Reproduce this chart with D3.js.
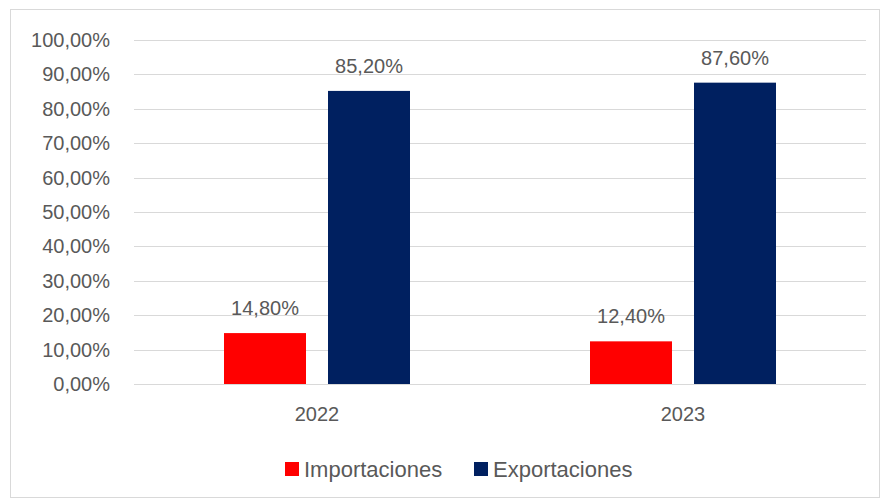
<!DOCTYPE html>
<html><head><meta charset="utf-8">
<script src="https://cdn.jsdelivr.net/npm/d3@7"></script>
<style>body{margin:0;background:#fff}svg{display:block}text{font-family:"Liberation Sans",Arial,sans-serif;fill:#595959}</style>
</head><body>
<script>
const categories = ["2022", "2023"];
const seriesNames = ["Importaciones", "Exportaciones"];
const importaciones = [14.8, 12.4];
const exportaciones = [85.2, 87.6];
const yTicks = [0,10,20,30,40,50,60,70,80,90,100];
const colors = ["#ff0000", "#002060"];

const W = 882, H = 499;
const FS = 20;
const svg = d3.select("body").append("svg").attr("width", W).attr("height", H);
svg.append("rect").attr("x",10.5).attr("y",9.5).attr("width",869).attr("height",488)
  .attr("fill","#fff").attr("stroke","#d9d9d9").attr("stroke-width",1);

const x0 = d3.scaleBand().domain(categories).range([134, 866]).paddingInner(0).paddingOuter(0);
const y = d3.scaleLinear().domain([0, 100]).range([384, 40]);
const x1 = d3.scaleBand().domain(seriesNames).range([x0.bandwidth()/2 - 93, x0.bandwidth()/2 + 93]).paddingInner(22/104);

const fmt = v => d3.format(".2f")(v).replace(".", ",") + "%";

svg.append("g").selectAll("line").data(yTicks).join("line")
  .attr("x1", 134).attr("x2", 866)
  .attr("y1", d => Math.round(y(d)) + 0.5).attr("y2", d => Math.round(y(d)) + 0.5)
  .attr("stroke", "#d9d9d9").attr("stroke-width", 1);

const yAxis = d3.axisLeft(y).tickValues(yTicks).tickFormat(fmt).tickSize(0).tickPadding(0);
const gy = svg.append("g").attr("transform", "translate(110,0)").call(yAxis);
gy.select(".domain").remove();
gy.selectAll("text").attr("font-size", FS).style("font-family", '"Liberation Sans",Arial,sans-serif').attr("fill", "#595959");

const xAxis = d3.axisBottom(x0).tickSize(0).tickPadding(0);
const gx = svg.append("g").attr("transform", "translate(0,407)").call(xAxis);
gx.select(".domain").remove();
gx.selectAll("text").attr("font-size", FS).style("font-family", '"Liberation Sans",Arial,sans-serif').attr("fill", "#595959");

const data = categories.map((c, i) => ({cat: c, vals: [
  {name: seriesNames[0], v: importaciones[i], color: colors[0]},
  {name: seriesNames[1], v: exportaciones[i], color: colors[1]}]}));

const groups = svg.append("g").selectAll("g").data(data).join("g")
  .attr("transform", d => `translate(${x0(d.cat)},0)`);
groups.selectAll("rect").data(d => d.vals).join("rect")
  .attr("x", d => x1(d.name)).attr("width", x1.bandwidth())
  .attr("y", d => y(d.v)).attr("height", d => y(0) - y(d.v))
  .attr("fill", d => d.color);
groups.selectAll("text").data(d => d.vals).join("text")
  .attr("x", d => x1(d.name) + x1.bandwidth()/2).attr("y", d => y(d.v) - 18)
  .attr("text-anchor", "middle").attr("font-size", FS).text(d => fmt(d.v));

const legend = svg.append("g");
const legX = [285, 474];
seriesNames.forEach((n, i) => {
  legend.append("rect").attr("x", legX[i]).attr("y", 462).attr("width", 14).attr("height", 14).attr("fill", colors[i]);
  legend.append("text").attr("x", legX[i] + 19).attr("y", 477).attr("font-size", 22).text(n);
});
</script>
</body></html>
